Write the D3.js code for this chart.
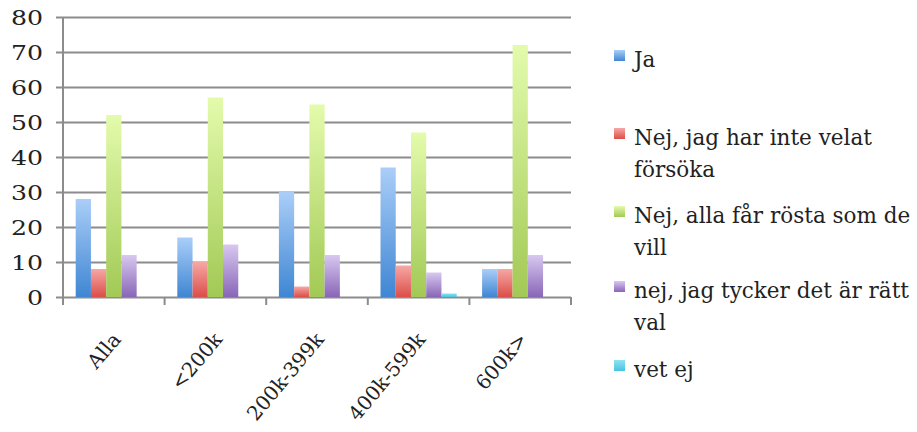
<!DOCTYPE html>
<html><head><meta charset="utf-8">
<script src="https://cdn.jsdelivr.net/npm/d3@7/dist/d3.min.js"></script>
<style>body{margin:0;background:#fff;} svg{display:block;} text{font-family:"DejaVu Serif",serif;}</style>
</head><body>
<svg id="chart" width="917" height="432"></svg>
<script>
const categories = ["Alla", "<200k", "200k-399k", "400k-599k", "600k>"];
const seriesNames = ["Ja", "Nej, jag har inte velat försöka", "Nej, alla får rösta som de vill", "nej, jag tycker det är rätt val", "vet ej"];
const legendLines = [["Ja"], ["Nej, jag har inte velat", "försöka"], ["Nej, alla får rösta som de", "vill"], ["nej, jag tycker det är rätt", "val"], ["vet ej"]];
const jaValues = [28, 17, 30, 37, 8];
const nejVelatValues = [8, 10, 3, 9, 8];
const nejAllaValues = [52, 57, 55, 47, 72];
const nejTyckerValues = [12, 15, 12, 7, 12];
const vetEjValues = [0, 0, 0, 1, 0];
const yTicks = [0, 10, 20, 30, 40, 50, 60, 70, 80];
const seriesValues = [jaValues, nejVelatValues, nejAllaValues, nejTyckerValues, vetEjValues];
const colors = [["#aacef8", "#3f86d3"], ["#f6a8a5", "#dc4e49"], ["#e3fbac", "#a2c955"], ["#d8c8f0", "#8966b7"], ["#8fe3f3", "#48c3e0"]];

const svg = d3.select("#chart");
const mLeft = 63, mRight = 571, mTop = 17, mBottom = 297;
const x0 = d3.scaleBand().domain(categories).range([mLeft, mRight]).paddingInner(0.25).paddingOuter(0.125);
const x1 = d3.scaleBand().domain(d3.range(seriesNames.length)).range([0, x0.bandwidth()]);
const y = d3.scaleLinear().domain([0, 80]).range([mBottom, mTop]);

const defs = svg.append("defs");
colors.forEach((c, i) => {
  const g = defs.append("linearGradient").attr("id", "g" + i).attr("x1", 0).attr("y1", 0).attr("x2", 0).attr("y2", 1);
  g.append("stop").attr("offset", "0%").attr("stop-color", c[0]);
  g.append("stop").attr("offset", "100%").attr("stop-color", c[1]);
});

// gridlines
const yAxis = d3.axisLeft(y).tickValues(yTicks).tickSize(-(mRight - mLeft)).tickFormat("");
const gy = svg.append("g").attr("transform", `translate(${mLeft},0)`).call(yAxis);
gy.selectAll("line").attr("stroke", "#8c8c8c").attr("stroke-width", 2).attr("x1", -7);
gy.select(".domain").remove();
svg.append("line").attr("x1", mLeft).attr("x2", mLeft).attr("y1", mTop).attr("y2", mBottom).attr("stroke", "#8c8c8c").attr("stroke-width", 2);

// y labels
svg.append("g").selectAll("text").data(yTicks).join("text")
  .attr("transform", d => `translate(43,${y(d) + 8}) scale(1.2,1)`)
  .attr("text-anchor", "end")
  .attr("font-size", 21).attr("fill", "#222")
  .text(d => d);

// x axis ticks
const xTickPos = categories.map(c => x0(c) - x0.step() * x0.paddingInner() / 2).concat([mRight]);
svg.append("g").selectAll("line").data(xTickPos).join("line")
  .attr("x1", d => d).attr("x2", d => d).attr("y1", mBottom).attr("y2", mBottom + 8)
  .attr("stroke", "#8c8c8c").attr("stroke-width", 2);

// bars
const groups = svg.append("g").selectAll("g").data(categories).join("g")
  .attr("transform", d => `translate(${x0(d)},0)`);
groups.selectAll("rect").data((d, ci) => seriesValues.map((s, si) => ({si, v: s[ci]}))).join("rect")
  .attr("x", d => x1(d.si)).attr("width", x1.bandwidth())
  .attr("y", d => y(d.v)).attr("height", d => mBottom - y(d.v))
  .attr("fill", d => `url(#g${d.si})`);

// x labels
svg.append("g").selectAll("text").data(categories).join("text")
  .attr("transform", d => `translate(${x0(d) + x0.bandwidth() / 2 + 8},${mBottom + 43}) rotate(-50)`)
  .attr("text-anchor", "end")
  .attr("font-size", 20).attr("fill", "#222")
  .text(d => d);

// legend
const legendTops = [67, 145, 223, 298, 377];
const lg = svg.append("g").selectAll("g").data(legendLines).join("g")
  .attr("transform", (d, i) => `translate(614,${legendTops[i]})`);
lg.append("rect").attr("x", 0).attr("y", -17).attr("width", 11).attr("height", 11)
  .attr("fill", (d, i) => `url(#g${i})`);
lg.append("text").attr("font-size", 21.5).attr("fill", "#222")
  .selectAll("tspan").data(d => d).join("tspan")
  .attr("x", 20).attr("y", (d, i) => i * 32).text(d => d);
</script>
</body></html>
